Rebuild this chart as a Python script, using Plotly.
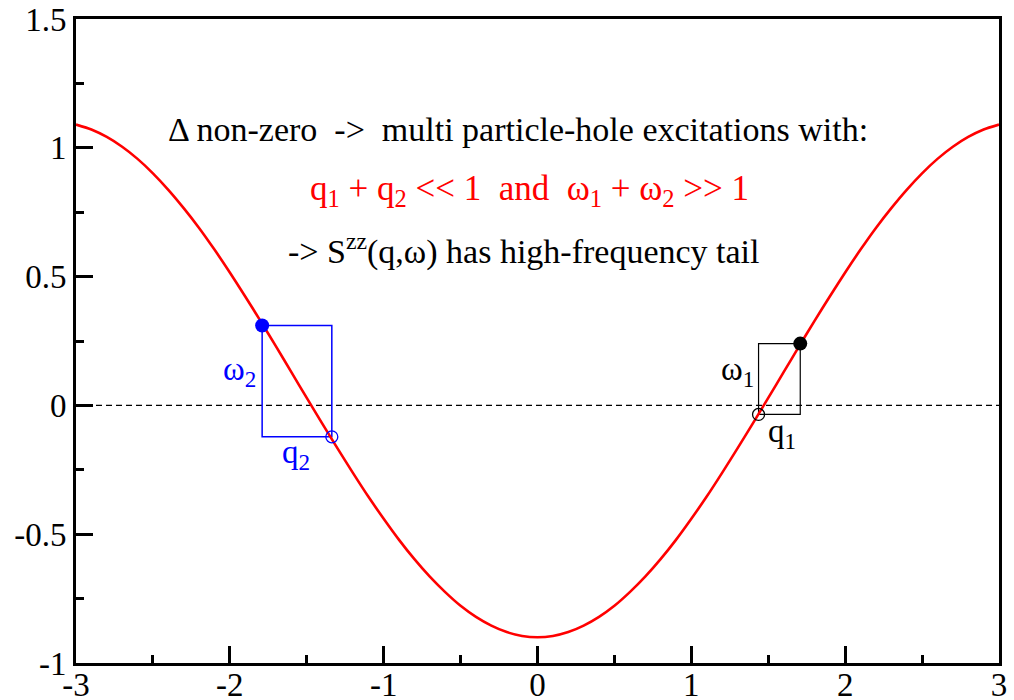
import plotly.graph_objects as go

# Dispersion curve, sampled every 0.1 in q
q_vals = [-3.0, -2.9, -2.8, -2.7, -2.6, -2.5, -2.4, -2.3, -2.2, -2.1,
          -2.0, -1.9, -1.8, -1.7, -1.6, -1.5, -1.4, -1.3, -1.2, -1.1,
          -1.0, -0.9, -0.8, -0.7, -0.6, -0.5, -0.4, -0.3, -0.2, -0.1,
          0.0, 0.1, 0.2, 0.3, 0.4, 0.5, 0.6, 0.7, 0.8, 0.9,
          1.0, 1.1, 1.2, 1.3, 1.4, 1.5, 1.6, 1.7, 1.8, 1.9,
          2.0, 2.1, 2.2, 2.3, 2.4, 2.5, 2.6, 2.7, 2.8, 2.9, 3.0]
e_vals = [1.090, 1.071, 1.042, 1.004, 0.957, 0.901, 0.837, 0.766, 0.689, 0.605,
          0.516, 0.423, 0.327, 0.229, 0.129, 0.029, -0.070, -0.167, -0.262, -0.354,
          -0.440, -0.522, -0.597, -0.665, -0.725, -0.778, -0.821, -0.855, -0.880, -0.895,
          -0.900, -0.895, -0.880, -0.855, -0.821, -0.778, -0.725, -0.665, -0.597, -0.522,
          -0.440, -0.354, -0.262, -0.167, -0.070, 0.029, 0.129, 0.229, 0.327, 0.423,
          0.516, 0.605, 0.689, 0.766, 0.837, 0.901, 0.957, 1.004, 1.042, 1.071, 1.090]

# Particle (filled) and hole (open) states of the two excitations
ex2_particle = (-1.79, 0.31)
ex2_hole = (-1.337, -0.122)
ex1_particle = (1.708, 0.240)
ex1_hole = (1.437, -0.035)

# Axis ticks
x_ticks = [-3, -2, -1, 0, 1, 2, 3]
y_ticks = [-1, -0.5, 0, 0.5, 1, 1.5]
x_tick_text = ["-3", "-2", "-1", "0", "1", "2", "3"]
y_tick_text = ["-1", "-0.5", "0", "0.5", "1", "1.5"]

FONT = "'Liberation Serif', 'Times New Roman', Times, serif"
BLUE = "#0000ff"
RED = "#ff0000"


def box(p, h):
    xs = [p[0], h[0], h[0], p[0], p[0]]
    ys = [p[1], p[1], h[1], h[1], p[1]]
    return xs, ys


fig = go.Figure()

# zero line
fig.add_trace(go.Scatter(x=[-3, 3], y=[0, 0], mode="lines",
                         line=dict(color="black", width=1.3, dash="6px,4px"),
                         hoverinfo="skip"))

# rectangles spanned by each particle-hole pair
bx, by = box(ex2_particle, ex2_hole)
fig.add_trace(go.Scatter(x=bx, y=by, mode="lines", line=dict(color=BLUE, width=1.5)))
bx, by = box(ex1_particle, ex1_hole)
fig.add_trace(go.Scatter(x=bx, y=by, mode="lines", line=dict(color="black", width=1.2)))

# dispersion
fig.add_trace(go.Scatter(x=q_vals, y=e_vals, mode="lines",
                         line=dict(color=RED, width=2.6, shape="spline", smoothing=0.6)))

# particle / hole markers
fig.add_trace(go.Scatter(x=[ex2_particle[0]], y=[ex2_particle[1]], mode="markers",
                         marker=dict(color=BLUE, size=14, line=dict(width=0))))
fig.add_trace(go.Scatter(x=[ex2_hole[0]], y=[ex2_hole[1]], mode="markers",
                         marker=dict(color="rgba(0,0,0,0)", size=12,
                                     line=dict(color=BLUE, width=1.3))))
fig.add_trace(go.Scatter(x=[ex1_particle[0]], y=[ex1_particle[1]], mode="markers",
                         marker=dict(color="black", size=14, line=dict(width=0))))
fig.add_trace(go.Scatter(x=[ex1_hole[0]], y=[ex1_hole[1]], mode="markers",
                         marker=dict(color="rgba(0,0,0,0)", size=12,
                                     line=dict(color="black", width=1.3))))

texts = [
    dict(x=-0.13, y=1.07, size=34, text="Δ non-zero  ->  multi particle-hole excitations with:", color="black"),
    dict(x=-0.05, y=0.835, size=35, text="q<sub>1</sub> + q<sub>2</sub> << 1  and  ω<sub>1</sub> + ω<sub>2</sub> >> 1", color=RED),
    dict(x=-0.085, y=0.605, size=34, text="-> S<sup>zz</sup>(q,ω) has high-frequency tail", color="black"),
    dict(x=-1.94, y=0.13, size=33, text="ω<sub>2</sub>", color=BLUE),
    dict(x=-1.57, y=-0.19, size=33, text="q<sub>2</sub>", color=BLUE),
    dict(x=1.30, y=0.13, size=33, text="ω<sub>1</sub>", color="black"),
    dict(x=1.59, y=-0.11, size=33, text="q<sub>1</sub>", color="black"),
]
for t in texts:
    fig.add_annotation(x=t["x"], y=t["y"], text=t["text"], showarrow=False,
                       xanchor="center", yanchor="middle",
                       font=dict(family=FONT, size=t["size"], color=t["color"]))

axis_common = dict(showgrid=False, zeroline=False, showline=True, linecolor="black",
                   linewidth=3, mirror=True, ticks="inside", tickcolor="black",
                   tickwidth=2.5, ticklen=17, automargin=False,
                   tickfont=dict(family=FONT, size=33, color="black"),
                   minor=dict(ticks="inside", ticklen=8, tickwidth=2.5, tickcolor="black"))

fig.update_xaxes(range=[-3, 3], tickvals=x_ticks, ticktext=x_tick_text,
                 minor_dtick=0.5, minor_tick0=0, ticklabelstandoff=-10, **axis_common)
fig.update_yaxes(range=[-1, 1.5], tickvals=y_ticks, ticktext=y_tick_text,
                 minor_dtick=0.25, minor_tick0=0, **axis_common)

fig.update_layout(width=1014, height=700, showlegend=False,
                  paper_bgcolor="white", plot_bgcolor="white",
                  margin=dict(l=76, r=15, t=19, b=37))

fig.write_html("out.html")
